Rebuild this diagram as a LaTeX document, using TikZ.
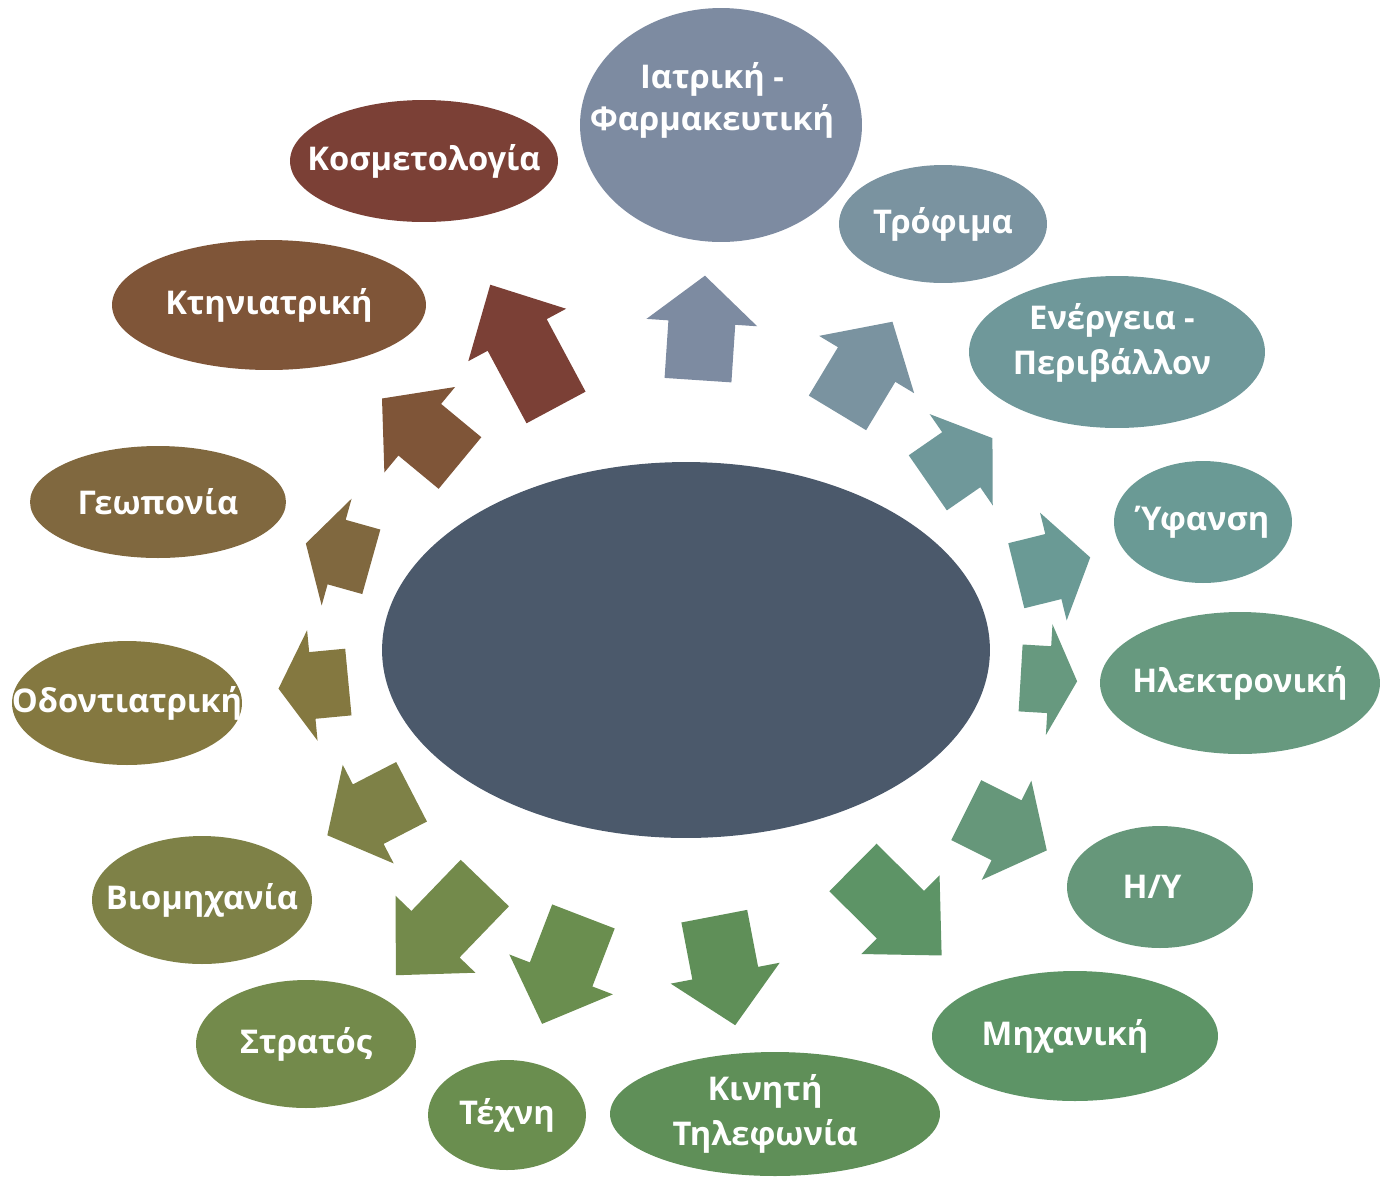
\documentclass[tikz,border=0pt]{standalone}
\usepackage{fontspec}
\setmainfont{Open Sans}
\usetikzlibrary{shapes.geometric,calc}

\definecolor{hubc}{HTML}{4B596B}
\definecolor{cIatr}{HTML}{7D8BA1}
\definecolor{cKosm}{HTML}{7B4036}
\definecolor{cTrof}{HTML}{7A93A0}
\definecolor{cKtin}{HTML}{7F5538}
\definecolor{cEnerg}{HTML}{6F989A}
\definecolor{cGeop}{HTML}{80683F}
\definecolor{cYfan}{HTML}{6A9A95}
\definecolor{cOdon}{HTML}{847840}
\definecolor{cIlek}{HTML}{67997F}
\definecolor{cViom}{HTML}{7E8147}
\definecolor{cHy}{HTML}{66977A}
\definecolor{cStrat}{HTML}{738A4B}
\definecolor{cMich}{HTML}{5D9466}
\definecolor{cTechn}{HTML}{6A8E4F}
\definecolor{cKinit}{HTML}{5F8F58}

% block arrow from the hub towards a field:
% colour, field, start, end, head length, shift
\newcommand{\blkarrow}[6]{%
 \path ($(hub)!#3!(#2)+#6$) coordinate (t) ($(hub)!#4!(#2)+#6$) coordinate (p);
 \path ($(p)!#5!(t)$) coordinate (b);
 \fill[#1] ($(t)!0.67cm!90:(p)$) -- ($(b)!0.67cm!90:(p)$) -- ($(b)!1.11cm!90:(p)$)
  -- (p) -- ($(b)!1.11cm!-90:(p)$) -- ($(b)!0.67cm!-90:(p)$) -- ($(t)!0.67cm!-90:(p)$) -- cycle;
}

\begin{document}
\begin{tikzpicture}[x=0.02cm,y=-0.02cm,
 bubble/.style={ellipse,fill=#1,inner sep=0pt},
 txt/.style={text=white,font=\bfseries\fontsize{18.6}{26}\selectfont,align=center,inner sep=0pt},
 tx/.style={label={[txt]center:#1}}]

 \useasboundingbox (0,0) rectangle (1380,1178);

 % centre
 \node[ellipse,fill=hubc,minimum width=12.16cm,minimum height=7.52cm] (hub) at (686,650) {};

 % fields
 \node[bubble=cIatr,minimum width=5.64cm,minimum height=4.68cm,
   label={[txt,xshift=-0.18cm,yshift=0.5cm,font=\bfseries\fontsize{18.6}{24}\selectfont]center:Ιατρική -\\Φαρμακευτική}] (iatr) at (721,125) {};
 \node[bubble=cKosm,minimum width=5.36cm,minimum height=2.44cm,tx=Κοσμετολογία] (kosm) at (424,161) {};
 \node[bubble=cTrof,minimum width=4.16cm,minimum height=2.36cm,tx=Τρόφιμα] (trof) at (943,224) {};
 \node[bubble=cKtin,minimum width=6.28cm,minimum height=2.60cm,tx=Κτηνιατρική] (ktin) at (269,305) {};
 \node[bubble=cEnerg,minimum width=5.92cm,minimum height=3.04cm,
   label={[txt,xshift=-0.1cm,yshift=0.18cm]center:Ενέργεια -\\Περιβάλλον}] (energ) at (1117,352) {};
 \node[bubble=cGeop,minimum width=5.12cm,minimum height=2.24cm,tx=Γεωπονία] (geop) at (158,502) {};
 \node[bubble=cYfan,minimum width=3.56cm,minimum height=2.44cm,tx=Ύφανση] (yfan) at (1203,522) {};
 \node[bubble=cOdon,minimum width=4.60cm,minimum height=2.48cm,tx=Οδοντιατρική] (odon) at (127,703) {};
 \node[bubble=cIlek,minimum width=5.60cm,minimum height=2.84cm,tx=Ηλεκτρονική] (ilek) at (1240,683) {};
 \node[bubble=cViom,minimum width=4.40cm,minimum height=2.56cm,tx=Βιομηχανία] (viom) at (202,900) {};
 \node[bubble=cHy,minimum width=3.72cm,minimum height=2.44cm,
   label={[txt,xshift=-0.16cm]center:Η/Υ}] (hy) at (1160,887) {};
 \node[bubble=cStrat,minimum width=4.40cm,minimum height=2.56cm,tx=Στρατός] (strat) at (306,1044) {};
 \node[bubble=cMich,minimum width=5.72cm,minimum height=2.60cm,
   label={[txt,xshift=-0.2cm]center:Μηχανική}] (mich) at (1075,1036) {};
 \node[bubble=cTechn,minimum width=3.16cm,minimum height=2.20cm,tx=Τέχνη] (techn) at (507,1115) {};
 \node[bubble=cKinit,minimum width=6.60cm,minimum height=2.48cm,
   label={[txt,xshift=-0.2cm]center:Κινητή\\Τηλεφωνία}] (kinit) at (775,1114) {};

 % arrows
 \blkarrow{cIatr}{iatr}{0.514}{0.713}{0.94cm}{(-6,0)}
 \blkarrow{cKosm}{kosm}{0.496}{0.747}{1.14cm}{(0,0)}
 \blkarrow{cKtin}{ktin}{0.542}{0.729}{0.98cm}{(0,0)}
 \blkarrow{cGeop}{geop}{0.596}{0.720}{0.64cm}{(0,0)}
 \blkarrow{cOdon}{odon}{0.604}{0.729}{0.68cm}{(0,0)}
 \blkarrow{cViom}{viom}{0.567}{0.741}{0.92cm}{(0,0)}
 \blkarrow{cStrat}{strat}{0.561}{0.795}{1.14cm}{(12,12)}
 \blkarrow{cTechn}{techn}{0.573}{0.804}{1.06cm}{(0,0)}
 \blkarrow{cKinit}{kinit}{0.565}{0.800}{1.06cm}{(-22,4)}
 \blkarrow{cMich}{mich}{0.496}{0.724}{1.16cm}{(-26,26)}
 \blkarrow{cHy}{hy}{0.608}{0.778}{0.90cm}{(-8,16)}
 \blkarrow{cIlek}{ilek}{0.604}{0.706}{0.56cm}{(0,8)}
 \blkarrow{cYfan}{yfan}{0.635}{0.778}{0.76cm}{(2,7)}
 \blkarrow{cEnerg}{energ}{0.561}{0.711}{0.76cm}{(0,0)}
 \blkarrow{cTrof}{trof}{0.566}{0.780}{1.00cm}{(6,4)}
\end{tikzpicture}
\end{document}
